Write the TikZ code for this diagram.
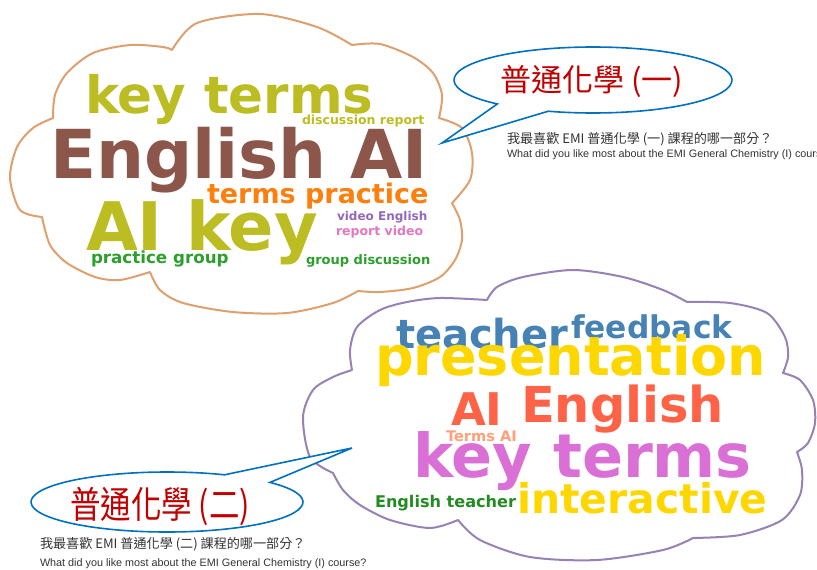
\documentclass[tikz,border=0pt]{standalone}
\usepackage{fontspec}
\usetikzlibrary{calc}
\setmainfont{Liberation Sans}
\newfontfamily\wc{DejaVu Sans}
\newfontfamily\cjk{Noto Sans CJK TC}
\definecolor{wOlive}{HTML}{BCBD22}
\definecolor{wBrown}{HTML}{8C564B}
\definecolor{wOrange}{HTML}{FF7F0E}
\definecolor{wPurple}{HTML}{9467BD}
\definecolor{wPink}{HTML}{E377C2}
\definecolor{wGreen}{HTML}{2CA02C}
\definecolor{wSteel}{HTML}{4682B4}
\definecolor{wGold}{HTML}{FFD700}
\definecolor{wTomato}{HTML}{FF6347}
\definecolor{wSalmon}{HTML}{FFA07A}
\definecolor{wOrchid}{HTML}{DA70D6}
\definecolor{wForest}{HTML}{228B22}
\definecolor{cloudA}{RGB}{222,160,110}
\definecolor{cloudB}{RGB}{150,130,180}
\definecolor{calloutBlue}{HTML}{0070C0}
\definecolor{titleRed}{HTML}{C00000}
\tikzset{
  word/.style={anchor=base west,inner sep=0pt,outer sep=0pt},
  cloudline/.style={line width=2pt,line join=round,line cap=round},
  callout/.style={draw=calloutBlue,line width=1.6pt,line join=miter},
  small/.style={anchor=base west,inner sep=0pt,outer sep=0pt,text=black!80}
}
\newcommand{\wfont}[1]{\wc\bfseries\fontsize{#1}{#1}\selectfont}
\begin{document}
\begin{tikzpicture}[x=1pt,y=-1pt]
\useasboundingbox (0,0) rectangle (817,570);
\clip (0,0) rectangle (817,570);
\fill[white] (0,0) rectangle (817,570);

% ---------- top cloud ----------
\draw[cloudline,draw=cloudA]
  plot[smooth] coordinates {(172,50)(197,23)(260,14)(317,27)(352,45)}
  -- plot[smooth] coordinates {(352,45)(380,44)(413,57)(433,73)(442,95)(439,118)}
  -- plot[smooth] coordinates {(439,118)(462,128)(472,153)(470,180)(452,203)}
  -- plot[smooth] coordinates {(452,203)(460,220)(462,240)(455,260)(440,277)(413,288)(380,292)(358,291)}
  -- plot[smooth] coordinates {(358,291)(333,303)(287,313)(233,312)(183,303)(160,290)(150,272)}
  -- plot[smooth] coordinates {(150,272)(120,280)(95,277)(67,263)(50,245)(42,217)}
  -- plot[smooth] coordinates {(42,217)(20,210)(10,178)(17,147)(33,128)(53,118)}
  -- plot[smooth] coordinates {(53,118)(55,95)(67,73)(93,53)(130,45)(163,47)(172,50)};

\node[word,text=wOlive,font=\wfont{51.5}] (t1) at (85,113) {key terms};
\node[word,text=wOlive,font=\wfont{12.5}] (t2) at (302,124) {discussion report};
\node[word,text=wBrown,font=\wfont{67.5}] (t3) at (50,178) {English AI};
\node[word,text=wOrange,font=\wfont{27}] (t4) at (207,203) {terms practice};
\node[word,text=wOlive,font=\wfont{67}] (t5) at (86,250) {AI key};
\node[word,text=wPurple,font=\wfont{12}] (t6) at (337,220) {video English};
\node[word,text=wPink,font=\wfont{12.5}] (t7) at (336,235) {report video};
\node[word,text=wGreen,font=\wfont{16.7}] (t8) at (91,263) {practice group};
\node[word,text=wGreen,font=\wfont{13}] (t9) at (306,264) {group discussion};

% ---------- bottom cloud ----------
\draw[cloudline,draw=cloudB]
  plot[smooth] coordinates {(487,300)(497,287)(523,277)(573,270)(623,277)(663,290)(687,302)}
  -- plot[smooth] coordinates {(687,302)(730,303)(767,313)(785,337)(788,357)(783,373)}
  -- plot[smooth] coordinates {(783,373)(800,380)(813,400)(815,423)(808,443)(797,452)}
  -- plot[smooth] coordinates {(797,452)(802,470)(800,495)(782,520)(740,535)(693,538)}
  -- plot[smooth] coordinates {(693,538)(663,550)(597,560)(530,557)(480,540)(458,520)}
  -- plot[smooth] coordinates {(458,520)(430,528)(390,520)(360,505)(343,490)(333,473)}
  -- plot[smooth] coordinates {(333,473)(310,457)(303,417)(313,390)(333,377)(352,370)}
  -- plot[smooth] coordinates {(352,370)(350,350)(357,327)(380,310)(407,302)(440,298)(487,300)};

\node[word,text=wSteel,font=\wfont{40}] (b1) at (396,348) {teacher};
\node[word,text=wSteel,font=\wfont{31.3}] (b2) at (571,338) {feedback};
\node[word,text=wGold,font=\wfont{54}] (b3) at (375,375) {presentation};
\node[word,text=wTomato,font=\wfont{45}] (b4) at (451,425) {AI};
\node[word,text=wTomato,font=\wfont{49.5}] (b5) at (521,422) {English};
\node[word,text=wSalmon,font=\wfont{14.6}] (b6) at (446,441) {Terms AI};
\node[word,text=wOrchid,font=\wfont{60.5}] (b7) at (413,477) {key terms};
\node[word,text=wForest,font=\wfont{16.1}] (b8) at (375,507) {English teacher};
\node[word,text=wGold,font=\wfont{40.9}] (b9) at (517,513) {interactive};

% ---------- top callout ----------
\coordinate (c1) at (593,80);
\coordinate (tip1) at (442,143);
\draw[callout,fill=white] (tip1) -- ($(c1)+(133.5:139 and 33)$)
  arc[start angle=133.5,end angle=468.8,x radius=139,y radius=33] -- cycle;
\node[inner sep=0pt,text=titleRed,font=\cjk\fontsize{31}{31}\selectfont] (title1) at (592,81) {普通化學 (一)};
\node[small,font=\cjk\fontsize{13.1}{13.1}\selectfont] (q1) at (507,143) {我最喜歡 EMI 普通化學 (一) 課程的哪一部分？};
\node[small,font=\fontsize{10.8}{10.8}\selectfont] (e1) at (507,157) {What did you like most about the EMI General Chemistry (I) course?};

% ---------- bottom callout ----------
\coordinate (c2) at (167,502);
\coordinate (tip2) at (352,448);
\draw[callout,fill=white] (tip2) -- ($(c2)+(-40.8:136 and 30)$)
  arc[start angle=-40.8,end angle=295,x radius=136,y radius=30] -- cycle;
\node[inner sep=0pt,text=titleRed,font=\cjk\fontsize{30.5}{30.5}\selectfont] (title2) at (160,506) {\scalebox{1}[1.22]{普通化學 (二)}};
\node[small,font=\cjk\fontsize{13.1}{13.1}\selectfont] (q2) at (40,548) {我最喜歡 EMI 普通化學 (二) 課程的哪一部分？};
\node[small,font=\fontsize{10.8}{10.8}\selectfont] (e2) at (40,566) {What did you like most about the EMI General Chemistry (I) course?};
\end{tikzpicture}
\end{document}
